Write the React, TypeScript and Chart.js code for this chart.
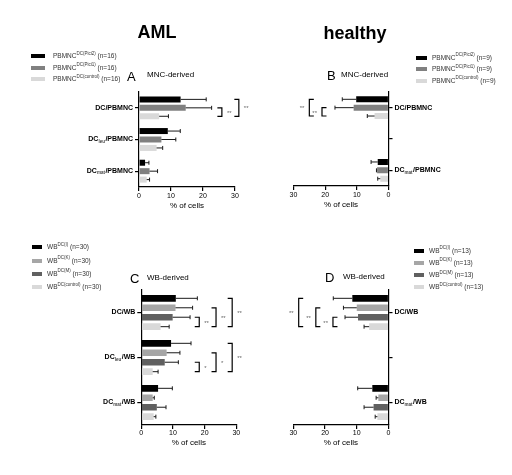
import { useEffect, useRef } from "react";
import { Chart, registerables } from "chart.js";

Chart.register(...registerables);

const FONT = "'Liberation Sans', Arial, sans-serif";
Chart.defaults.font.family = FONT;

// category (tick) labels, "_xxx" is drawn as subscript
const mncLabels = ["DC/PBMNC", "DC_leu/PBMNC", "DC_mat/PBMNC"];
const mncHealthyLabels = ["DC/PBMNC", "", "DC_mat/PBMNC"];
const wbLabels = ["DC/WB", "DC_leu/WB", "DC_mat/WB"];
const wbHealthyLabels = ["DC/WB", "", "DC_mat/WB"];
const xTicks = [0, 10, 20, 30];

// A: AML, MNC-derived (mean, SD)
const amlMncPici2 = [13.0, 9.0, 1.9];
const amlMncPici2Sd = [8.0, 3.9, 1.2];
const amlMncPici1 = [14.6, 7.0, 3.3];
const amlMncPici1Sd = [8.1, 4.5, 2.5];
const amlMncControl = [6.3, 5.5, 2.4];
const amlMncControlSd = [2.9, 1.9, 0.9];

// B: healthy, MNC-derived
const hMncPici2 = [10.2, null, 3.4];
const hMncPici2Sd = [4.4, null, 2.1];
const hMncPici1 = [11.0, null, 3.6];
const hMncPici1Sd = [5.9, null, 0.2];
const hMncControl = [4.4, null, 2.6];
const hMncControlSd = [2.3, null, 0.8];

// C: AML, WB-derived
const amlWbI = [10.9, 9.4, 5.3];
const amlWbISd = [6.8, 6.3, 4.5];
const amlWbK = [10.8, 8.0, 3.6];
const amlWbKSd = [5.4, 4.2, 0.5];
const amlWbM = [9.9, 7.4, 4.9];
const amlWbMSd = [5.5, 4.3, 2.9];
const amlWbControl = [6.1, 3.6, 3.9];
const amlWbControlSd = [2.7, 1.7, 0.7];

// D: healthy, WB-derived
const hWbI = [11.4, null, 5.1];
const hWbISd = [6.0, null, 4.6];
const hWbK = [10.0, null, 3.2];
const hWbKSd = [4.2, null, 0.7];
const hWbM = [9.6, null, 4.7];
const hWbMSd = [4.1, null, 3.0];
const hWbControl = [6.1, null, 3.5];
const hWbControlSd = [1.6, null, 0.7];

// legend texts
const mncSup = ["DC(Pici2)", "DC(Pici1)", "DC(control)"];
const wbSup = ["DC(I)", "DC(K)", "DC(M)", "DC(control)"];

// significance brackets: category, from dataset, to dataset, level, text
type Sig = [number, number, number, number, string];
const amlMncSig: Sig[] = [[0, 1, 2, 0, "**"], [0, 0, 2, 1, "**"]];
const hMncSig: Sig[] = [[0, 1, 2, 0, "**"], [0, 0, 2, 1, "**"]];
const amlWbSig: Sig[] = [
  [0, 2, 3, 0, "**"], [0, 1, 3, 1, "**"], [0, 0, 3, 2, "**"],
  [1, 2, 3, 0, "*"], [1, 1, 3, 1, "*"], [1, 0, 3, 2, "**"],
];
const hWbSig: Sig[] = [[0, 2, 3, 0, "**"], [0, 1, 3, 1, "**"], [0, 0, 3, 2, "**"]];

const mncColors = ["#000000", "#808080", "#d9d9d9"];
const wbColors = ["#000000", "#a6a6a6", "#606060", "#d9d9d9"];

type Series = { color: string; values: (number | null)[]; errors: (number | null)[] };

interface PanelProps {
  labels: string[];
  series: Series[];
  sig: Sig[];
  levels: number[];
  mirrored: boolean;
  left: number;
  top: number;
  area: { left: number; top: number; right: number; bottom: number };
  xHeight: number;
  tickPad: number;
  catPct: number;
  barPct: number;
}

const W = 256;
const H = 230;

function Panel(p: PanelProps) {
  const canvasRef = useRef<HTMLCanvasElement>(null);

  useEffect(() => {
    if (!canvasRef.current) return;
    const ctx = canvasRef.current.getContext("2d");
    if (!ctx) return;
    const a = p.area;
    const yWidth = p.mirrored ? W - a.right : a.left;

    const overlay = {
      id: "overlay",
      afterDatasetsDraw(chart: any) {
        const c = chart.ctx;
        const xs = chart.scales.x;
        const ys = chart.scales.y;
        c.save();

        // error bars
        c.strokeStyle = "#1a1a1a";
        c.lineWidth = 1;
        p.series.forEach((s, i) => {
          const meta = chart.getDatasetMeta(i);
          s.values.forEach((v, j) => {
            const e = s.errors[j];
            if (v == null || e == null) return;
            const bar = meta.data[j];
            const x1 = xs.getPixelForValue(v + e);
            c.beginPath();
            c.moveTo(bar.x, bar.y);
            c.lineTo(x1, bar.y);
            c.moveTo(x1, bar.y - 2);
            c.lineTo(x1, bar.y + 2);
            c.stroke();
          });
        });

        // category labels with subscripts
        c.fillStyle = "#000";
        c.textBaseline = "middle";
        c.textAlign = "left";
        p.labels.forEach((lab, i) => {
          if (!lab) return;
          const y = ys.getPixelForTick(i);
          let pre = lab, sub = "", post = "";
          const k = lab.indexOf("_");
          if (k >= 0) {
            pre = lab.slice(0, k);
            const rest = lab.slice(k + 1);
            const sl = rest.indexOf("/");
            sub = rest.slice(0, sl);
            post = rest.slice(sl);
          }
          const big = `bold 7px ${FONT}`;
          const small = `bold 4.5px ${FONT}`;
          c.font = big;
          const w1 = c.measureText(pre).width;
          const w3 = c.measureText(post).width;
          c.font = small;
          const w2 = sub ? c.measureText(sub).width + 0.5 : 0;
          const total = w1 + w2 + w3;
          let x = p.mirrored ? chart.chartArea.right + 6 : chart.chartArea.left - 6 - total;
          c.font = big;
          c.fillText(pre, x, y);
          x += w1;
          if (sub) {
            c.font = small;
            c.fillStyle = "#444";
            c.fillText(sub, x, y + 2);
            c.fillStyle = "#000";
            x += w2;
          }
          c.font = big;
          c.fillText(post, x, y);
        });

        // significance brackets
        const base = xs.getPixelForValue(0);
        p.sig.forEach(([cat, from, to, level, text]) => {
          const y0 = chart.getDatasetMeta(from).data[cat].y;
          const y1 = chart.getDatasetMeta(to).data[cat].y;
          const xv = xs.getPixelForValue(p.levels[level]);
          const dir = xv > base ? 1 : -1;
          c.strokeStyle = "#000";
          c.lineWidth = 1.2;
          c.beginPath();
          c.moveTo(xv - dir * 4.5, y0);
          c.lineTo(xv, y0);
          c.lineTo(xv, y1);
          c.lineTo(xv - dir * 4.5, y1);
          c.stroke();
          c.fillStyle = "#666";
          c.font = `6px ${FONT}`;
          c.textAlign = dir > 0 ? "left" : "right";
          c.fillText(text, xv + dir * 5, (y0 + y1) / 2 + 1);
        });
        c.restore();
      },
    };

    const chart = new Chart(ctx, {
      type: "bar",
      data: {
        labels: p.labels,
        datasets: p.series.map((s) => ({
          data: s.values,
          backgroundColor: s.color,
          borderWidth: 0,
          categoryPercentage: p.catPct,
          barPercentage: p.barPct,
        })),
      },
      options: {
        indexAxis: "y",
        animation: false,
        responsive: false,
        layout: {
          padding: {
            left: p.mirrored ? a.left : 0,
            right: p.mirrored ? 0 : W - a.right,
            top: a.top,
            bottom: H - a.bottom - p.xHeight,
          },
        },
        plugins: { legend: { display: false }, tooltip: { enabled: false } },
        scales: {
          x: {
            type: "linear",
            min: 0,
            max: 30,
            reverse: p.mirrored,
            afterBuildTicks: (s: any) => {
              s.ticks = xTicks.map((v) => ({ value: v }));
            },
            afterFit: (s: any) => {
              s.height = p.xHeight;
            },
            ticks: { color: "#000", font: { size: 7 }, padding: p.tickPad, maxRotation: 0 },
            grid: { drawOnChartArea: false, drawTicks: true, tickLength: 4, color: "#000", lineWidth: 1.2 },
            border: { color: "#000", width: 1.2 },
            title: { display: true, text: "% of cells", color: "#000", font: { size: 8 }, padding: 0 },
          },
          y: {
            type: "category",
            position: p.mirrored ? "right" : "left",
            offset: true,
            afterFit: (s: any) => {
              s.width = yWidth;
            },
            ticks: { display: false },
            grid: { offset: false, drawOnChartArea: false, drawTicks: true, tickLength: 4, color: "#000", lineWidth: 1.2 },
            border: { color: "#000", width: 1.2 },
          },
        },
      },
      plugins: [overlay],
    } as any);

    return () => {
      chart.destroy();
    };
  }, [p]);

  return (
    <canvas
      ref={canvasRef}
      width={W}
      height={H}
      style={{ position: "absolute", left: p.left, top: p.top, width: W, height: H }}
    />
  );
}

function Text({ x, y, size, bold, children, center, color }: any) {
  return (
    <div
      style={{
        position: "absolute",
        left: x,
        top: y,
        fontSize: size,
        fontWeight: bold ? "bold" : "normal",
        lineHeight: 1,
        whiteSpace: "nowrap",
        color: color || "#000",
        transform: center ? "translate(-50%, -50%)" : "translateY(-50%)",
      }}
    >
      {children}
    </div>
  );
}

function Legend({ x, textX, rows, base, sups, n, colors, sw }: any) {
  return (
    <>
      {rows.map((y: number, i: number) => (
        <div key={i}>
          <div
            style={{ position: "absolute", left: x, top: y - 2, width: sw, height: 4, background: colors[i] }}
          />
          <Text x={textX} y={y} size={6.5} color="#333">
            {base}
            <sup style={{ fontSize: 4.5, verticalAlign: "top", position: "relative", top: -1.5 }}>{sups[i]}</sup> (n={n})
          </Text>
        </div>
      ))}
    </>
  );
}

const panelA: PanelProps = {
  labels: mncLabels,
  series: [
    { color: mncColors[0], values: amlMncPici2, errors: amlMncPici2Sd },
    { color: mncColors[1], values: amlMncPici1, errors: amlMncPici1Sd },
    { color: mncColors[2], values: amlMncControl, errors: amlMncControlSd },
  ],
  sig: amlMncSig,
  levels: [25.9, 31.2],
  mirrored: false,
  left: 0,
  top: 0,
  area: { left: 139, top: 92, right: 235, bottom: 187 },
  xHeight: 24,
  tickPad: 1,
  catPct: 0.8,
  barPct: 0.71,
};

const panelB: PanelProps = {
  labels: mncHealthyLabels,
  series: [
    { color: mncColors[0], values: hMncPici2, errors: hMncPici2Sd },
    { color: mncColors[1], values: hMncPici1, errors: hMncPici1Sd },
    { color: mncColors[2], values: hMncControl, errors: hMncControlSd },
  ],
  sig: hMncSig,
  levels: [21, 25],
  mirrored: true,
  left: 256,
  top: 0,
  area: { left: 37.5, top: 92, right: 132.5, bottom: 186 },
  xHeight: 24,
  tickPad: 1,
  catPct: 0.8,
  barPct: 0.71,
};

const panelC: PanelProps = {
  labels: wbLabels,
  series: [
    { color: wbColors[0], values: amlWbI, errors: amlWbISd },
    { color: wbColors[1], values: amlWbK, errors: amlWbKSd },
    { color: wbColors[2], values: amlWbM, errors: amlWbMSd },
    { color: wbColors[3], values: amlWbControl, errors: amlWbControlSd },
  ],
  sig: amlWbSig,
  levels: [18.3, 23.6, 28.7],
  mirrored: false,
  left: 0,
  top: 230,
  area: { left: 141.3, top: 60, right: 236.3, bottom: 195 },
  xHeight: 23,
  tickPad: 0,
  catPct: 0.84,
  barPct: 0.7,
};

const panelD: PanelProps = {
  labels: wbHealthyLabels,
  series: [
    { color: wbColors[0], values: hWbI, errors: hWbISd },
    { color: wbColors[1], values: hWbK, errors: hWbKSd },
    { color: wbColors[2], values: hWbM, errors: hWbMSd },
    { color: wbColors[3], values: hWbControl, errors: hWbControlSd },
  ],
  sig: hWbSig,
  levels: [17.5, 22.9, 28.3],
  mirrored: true,
  left: 256,
  top: 230,
  area: { left: 37.3, top: 60, right: 132.5, bottom: 195 },
  xHeight: 23,
  tickPad: 0,
  catPct: 0.84,
  barPct: 0.7,
};

export default function App() {
  return (
    <div
      style={{
        position: "absolute",
        left: 0,
        top: 0,
        width: 512,
        height: 475,
        background: "#fff",
        fontFamily: FONT,
        overflow: "hidden",
      }}
    >
      <Panel {...panelA} />
      <Panel {...panelB} />
      <Panel {...panelC} />
      <Panel {...panelD} />

      <Text x={157} y={32} size={18} bold center>AML</Text>
      <Text x={355} y={33} size={18} bold center>healthy</Text>

      <Text x={127} y={76} size={13}>A</Text>
      <Text x={147} y={75} size={8}>MNC-derived</Text>
      <Text x={327} y={75} size={13}>B</Text>
      <Text x={341} y={75} size={8}>MNC-derived</Text>
      <Text x={130} y={278} size={13}>C</Text>
      <Text x={147} y={278} size={8}>WB-derived</Text>
      <Text x={325} y={277} size={13}>D</Text>
      <Text x={343} y={277} size={8}>WB-derived</Text>

      <Legend x={31} textX={53} sw={14} rows={[56, 67.5, 79]} base="PBMNC" sups={mncSup} n={16} colors={mncColors} />
      <Legend x={416} textX={432} sw={11} rows={[57.5, 69, 80.5]} base="PBMNC" sups={mncSup} n={9} colors={mncColors} />
      <Legend x={32} textX={47} sw={10} rows={[247, 260.5, 273.5, 287]} base="WB" sups={wbSup} n={30} colors={wbColors} />
      <Legend x={414} textX={429} sw={10} rows={[250.5, 262.5, 275, 287]} base="WB" sups={wbSup} n={13} colors={wbColors} />
    </div>
  );
}
